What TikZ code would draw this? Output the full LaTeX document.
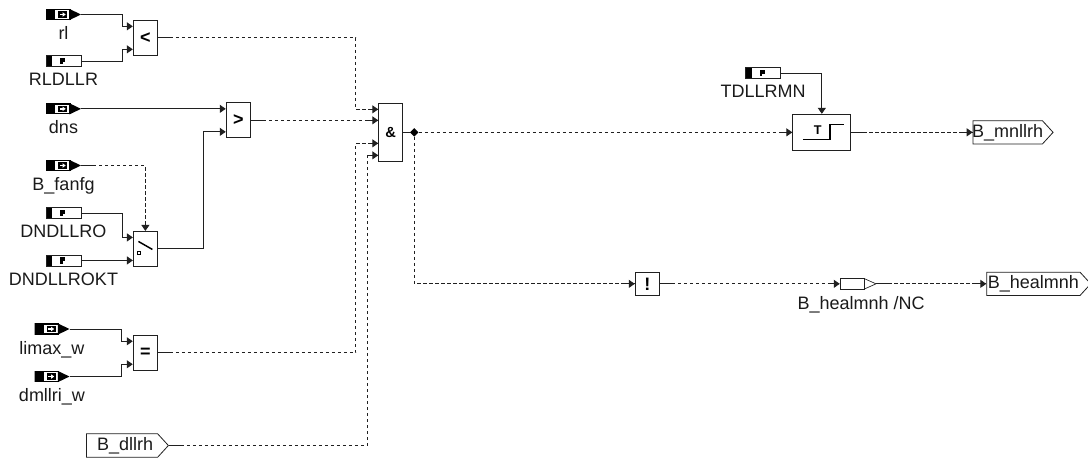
\documentclass[tikz,border=0pt]{standalone}
\usepackage{fontspec}
\setmainfont{Liberation Sans}
\usetikzlibrary{positioning,calc,arrows.meta,shapes.symbols,shapes.geometric}
\definecolor{txt}{HTML}{1A1A1A}
\definecolor{ln}{HTML}{202020}

\begin{document}
\begin{tikzpicture}[x=0.75pt,y=-0.75pt,font=\fontsize{13.5pt}{15pt}\selectfont,text=txt,
  >={Triangle[length=4.5pt,width=6pt]},label distance=4.5pt,
  every label/.style={inner sep=0pt,text=txt},
  sym/.style={font=\fontsize{13.5pt}{15pt}\selectfont\bfseries,text=black,inner sep=0pt},
  blk/.style={sym,draw=ln,line width=0.75pt,fill=white,minimum width=18pt,minimum height=26.25pt},
  parm/.style={draw=ln,line width=0.6pt,inner sep=0pt,minimum width=26.25pt,minimum height=8.25pt,
    path picture={\coordinate (w) at (path picture bounding box.west);
      \fill[black] ([yshift=4.2pt]w) rectangle ([xshift=4.5pt,yshift=-4.2pt]w);
      \fill[black] ([xshift=10.8pt,yshift=2.4pt]w) rectangle ([xshift=14.6pt,yshift=-0.6pt]w);
      \fill[black] ([xshift=10.8pt,yshift=2.4pt]w) rectangle ([xshift=12.6pt,yshift=-2.4pt]w);}},
  meas/.style={inner sep=0pt,minimum width=26.25pt,minimum height=8.25pt,
    path picture={\coordinate (w) at (path picture bounding box.west);
      \coordinate (e) at (path picture bounding box.east);
      \draw[black,line width=0.9pt] ([yshift=3.7pt]w) rectangle ([xshift=18pt,yshift=-3.7pt]w);
      \fill[black] ([yshift=4.2pt]w) rectangle ([xshift=6.75pt,yshift=-4.2pt]w);
      \fill[black] ([xshift=17.5pt,yshift=4.2pt]w) -- (e) -- ([xshift=17.5pt,yshift=-4.2pt]w) -- cycle;
      \fill[black] ([xshift=9pt,yshift=2.4pt]w) rectangle ([xshift=15.75pt,yshift=-2.4pt]w);
      \fill[white] ([xshift=10.4pt,yshift=0.6pt]w) rectangle ([xshift=12.4pt,yshift=-0.6pt]w);
      \fill[white] ([xshift=12.4pt,yshift=1.7pt]w) -- ([xshift=14.8pt]w) -- ([xshift=12.4pt,yshift=-1.7pt]w) -- cycle;}},
  nocon/.style={inner sep=0pt,minimum width=27pt,minimum height=9pt,
    path picture={\coordinate (w) at (path picture bounding box.west);
      \coordinate (e) at (path picture bounding box.east);
      \draw[ln,line width=0.7pt] ([xshift=18pt,yshift=4pt]w) -- ([xshift=0.4pt,yshift=4pt]w) -- ([xshift=0.4pt,yshift=-4pt]w) -- ([xshift=18pt,yshift=-4pt]w) -- cycle;
      \draw[ln,line width=0.5pt] ([xshift=18pt,yshift=4pt]w) -- (e) -- ([xshift=18pt,yshift=-4pt]w);}},
  flag/.style={signal,signal to=east,signal from=nowhere,signal pointer angle=95,draw=ln,line width=0.6pt,
    inner sep=0pt,minimum height=17.5pt},
  sig/.style={draw=ln,line width=0.75pt},
  sigd/.style={sig,dash pattern=on 2.4pt off 2.1pt}]

\useasboundingbox (0,0) rectangle (1088,462);

% inputs
\node[meas,label=below:rl] (rl) at (63.5,14.5) {};
\node[parm,label=below:RLDLLR,below=26.25pt of rl] (rldllr) {};
\node[meas,label=below:dns,below=27pt of rldllr] (dns) {};
\node[meas,label=below:B\_fanfg] (fanfg) at (63.5,165.5) {};
\node[parm,label=below:DNDLLRO,below=27pt of fanfg] (ro) {};
\node[parm,label=below:DNDLLROKT,below=26.6pt of ro] (rokt) {};
\node[meas,label=below:limax\_w] (limax) at (52,329) {};
\node[meas,label=below:dmllri\_w,below=27pt of limax] (dmllri) {};
\node[flag,minimum width=61.5pt,anchor=west] (dllrh) at (86,445.5) {\hspace{4.5pt}B\_dllrh};
\node[parm,label=below:TDLLRMN] (tdllrmn) at (763,73) {};

% blocks
\node[blk] (lt) at ($(rl.east)!0.5!(rldllr.east)+(64,0)$) {<};
\node[blk] (gt) at ($(dns.east)+(157,11.5)$) {>};
\node[blk] (sw) at ($(rokt.east)+(64,-11.5)$) {};
\node[blk] (eq) at ($(limax.east)!0.5!(dmllri.east)+(75.5,0)$) {=};
\node[blk,minimum height=43.5pt,font=\fontsize{11pt}{13pt}\selectfont\bfseries] (and) at ($(gt.east)+(140,12)$) {\&};
\node[diamond,fill=black,inner sep=0pt,minimum size=6.5pt] (jn) at ($(and.east)+(11,0)$) {};
\node[blk,minimum width=43.5pt,minimum height=27pt,right=280.1pt of jn] (tof) {};
\node[blk,minimum height=17.25pt] (nt) at ($(jn)+(233,151.5)$) {!};
\node[nocon,right=135pt of nt,label={[xshift=2.25pt]below:B\_healmnh /NC}] (nc) {};
\node[flag,minimum width=60pt,inner xsep=-0.9pt,right=91pt of tof] (mnllrh) {B\_mnllrh\hspace{1.5pt}};
\node[flag,minimum width=78pt,right=82.5pt of nc] (healmnh) {B\_healmnh};

% block symbols
\draw[black,line width=1.1pt] (sw.center) ++(-7,-7.5) -- ++(14,8);
\draw[black,line width=0.7pt] ($(sw.center)+(-7.5,3)$) rectangle ++(3,3);
\node[sym,font=\fontsize{9.5pt}{11pt}\selectfont\bfseries] (tt) at ($(tof.center)+(-4,-2)$) {T};
\draw[black,line width=1.1pt] (tof.center) ++(-19,7) -- ++(27,0) -- ++(0,-15) -- ++(14,0);

% block inputs
\coordinate (ltA) at ($(lt.west)+(0,-11.5)$);
\coordinate (ltB) at ($(lt.west)+(0,11.5)$);
\coordinate (gtA) at ($(gt.west)+(0,-11.5)$);
\coordinate (gtB) at ($(gt.west)+(0,11.5)$);
\coordinate (swA) at ($(sw.west)+(0,-11.5)$);
\coordinate (swB) at ($(sw.west)+(0,11.5)$);
\coordinate (eqA) at ($(eq.west)+(0,-11.5)$);
\coordinate (eqB) at ($(eq.west)+(0,11.5)$);
\coordinate (andA) at ($(and.west)+(0,-23)$);
\coordinate (andB) at ($(and.west)+(0,-12)$);
\coordinate (andC) at ($(and.west)+(0,11)$);
\coordinate (andD) at ($(and.west)+(0,23)$);

% solid lines
\draw[sig,->] (rl.east) -- ++(41,0) |- (ltA);
\draw[sig,->] (rldllr.east) -- ++(41,0) |- (ltB);
\draw[sig,->] (dns.east) -- (gtA);
\draw[sig,->] (ro.east) -- ++(41,0) |- (swA);
\draw[sig,->] (rokt.east) -- (swB);
\draw[sig,->] (sw.east) -- ++(46,0) |- (gtB);
\draw[sig,->] (limax.east) -- ++(52,0) |- (eqA);
\draw[sig,->] (dmllri.east) -- ++(52,0) |- (eqB);
\draw[sig,->] (tdllrmn.east) -| (tof.north);
\draw[sig] (and.east) -- (jn);

% dashed lines
\draw[sigd,->] (fanfg.east) -| (sw.north);
\draw[sigd] (lt.east) -- ++(198,0) |- (andA);
\draw[sigd] (gt.east) -- (andB);
\draw[sigd] (eq.east) -- ++(198,0) |- (andC);
\draw[sigd] (dllrh.east) -- ++(198.5,0) |- (andD);
\draw[sigd] (jn) -- (tof.west);
\draw[sigd] (jn) |- (nt.west);
\draw[sigd] (tof.east) -- (mnllrh.west);
\draw[sigd] (nt.east) -- (nc.west);
\draw[sigd] (nc.east) -- (healmnh.west);

% solid ends of the dashed lines
\foreach \n in {fanfg,lt,gt,eq,dllrh,tof,nt,nc}
  \draw[sig] (\n.east) -- ++(13,0);
\foreach \n in {andA,andB,andC,andD,tof.west,nt.west,mnllrh.west,nc.west,healmnh.west}
  \draw[sig,->] ([xshift=-7.5pt]\n) -- (\n);

\end{tikzpicture}
\end{document}
